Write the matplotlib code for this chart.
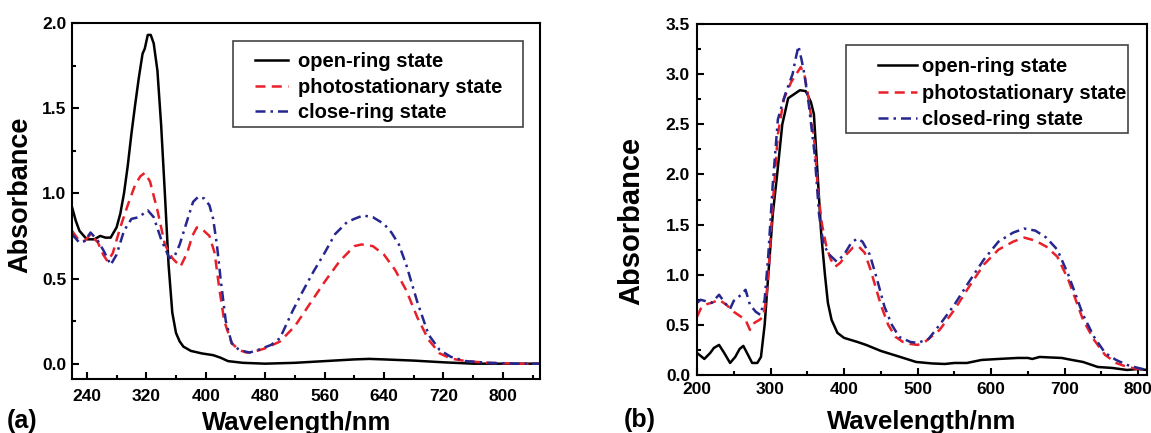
import numpy as np
import matplotlib
matplotlib.use("Agg")
import matplotlib.pyplot as plt
from matplotlib.patches import Rectangle
from matplotlib.ticker import MultipleLocator

plt.rcParams['font.family'] = ['Liberation Sans', 'DejaVu Sans']
plt.rcParams['font.weight'] = 'bold'

# ---- panel (a) data (wavelength nm, absorbance) ----
a_open_x = [220, 225, 230, 240, 250, 258, 265, 272, 280, 285, 290, 295, 300, 305, 310, 315, 318,
            322, 326, 330, 335, 340, 345, 350, 355, 360, 365, 370, 380, 395, 410, 420, 430, 450,
            480, 520, 560, 600, 620, 640, 680, 720, 760, 800, 850]
a_open_y = [0.92, 0.84, 0.78, 0.73, 0.73, 0.75, 0.74, 0.74, 0.80, 0.88, 1.00, 1.16, 1.35, 1.52,
            1.68, 1.82, 1.85, 1.93, 1.93, 1.88, 1.72, 1.40, 1.00, 0.58, 0.30, 0.18, 0.13, 0.10,
            0.075, 0.06, 0.05, 0.035, 0.015, 0.005, 0.0, 0.005, 0.015, 0.025, 0.028, 0.025, 0.018,
            0.008, 0.0, 0.0, 0.0]

a_photo_x = [220, 230, 237, 245, 255, 262, 268, 275, 285, 295, 305, 312, 318, 325, 335, 345, 355,
             366, 375, 382, 388, 395, 405, 412, 418, 425, 435, 445, 455, 465, 480, 500, 520, 540,
             560, 580, 600, 610, 625, 640, 655, 670, 685, 700, 715, 730, 750, 780, 820, 850]
a_photo_y = [0.78, 0.72, 0.72, 0.76, 0.71, 0.64, 0.60, 0.65, 0.80, 0.93, 1.05, 1.10, 1.12, 1.07,
             0.90, 0.70, 0.62, 0.57, 0.65, 0.75, 0.80, 0.79, 0.75, 0.65, 0.45, 0.25, 0.12, 0.08,
             0.065, 0.07, 0.09, 0.13, 0.22, 0.35, 0.48, 0.60, 0.69, 0.70, 0.69, 0.64, 0.55, 0.43,
             0.27, 0.14, 0.06, 0.03, 0.015, 0.005, 0.0, 0.0]

a_close_x = [220, 230, 237, 245, 255, 263, 272, 280, 290, 300, 310, 322, 330, 340, 351, 358, 365,
             375, 383, 390, 398, 405, 410, 415, 420, 427, 435, 445, 459, 470, 488, 500, 517, 530,
             545, 560, 574, 590, 600, 612, 625, 640, 650, 660, 670, 685, 700, 715, 730, 750, 780,
             820, 850]
a_close_y = [0.76, 0.71, 0.72, 0.77, 0.72, 0.66, 0.58, 0.64, 0.78, 0.85, 0.86, 0.90, 0.86, 0.73,
             0.62, 0.63, 0.70, 0.84, 0.95, 0.98, 0.97, 0.93, 0.85, 0.70, 0.50, 0.25, 0.12, 0.08,
             0.065, 0.08, 0.11, 0.15, 0.31, 0.42, 0.54, 0.65, 0.76, 0.83, 0.85, 0.87, 0.86, 0.82,
             0.77, 0.70, 0.58, 0.36, 0.17, 0.08, 0.04, 0.015, 0.005, 0.0, 0.0]

# ---- panel (b) data ----
b_open_x = [200, 205, 210, 218, 223, 230, 237, 245, 252, 258, 263, 268, 275, 282, 287, 292, 297,
            303, 309, 316, 324, 332, 340, 348, 355, 359, 364, 369, 374, 378, 383, 391, 400, 418,
            430, 450, 472, 498, 520, 537, 550, 567, 587, 610, 636, 650, 656, 666, 680, 696, 710,
            725, 745, 765, 785, 800, 812]
b_open_y = [0.22, 0.19, 0.16, 0.22, 0.27, 0.30, 0.22, 0.12, 0.18, 0.26, 0.29, 0.22, 0.12, 0.12,
            0.18, 0.50, 1.00, 1.60, 2.00, 2.50, 2.76, 2.80, 2.84, 2.83, 2.72, 2.60, 2.00, 1.40,
            1.00, 0.72, 0.55, 0.42, 0.37, 0.33, 0.30, 0.24, 0.19, 0.13, 0.115, 0.11, 0.12, 0.12,
            0.15, 0.16, 0.17, 0.17, 0.16, 0.18, 0.175, 0.17, 0.15, 0.13, 0.08, 0.07, 0.05, 0.06,
            0.05]

b_photo_x = [200, 205, 210, 220, 230, 240, 250, 260, 266, 272, 278, 285, 290, 294, 297, 303, 310,
             318, 328, 335, 341, 346, 352, 360, 365, 370, 376, 382, 388, 395, 403, 412, 420, 428,
             436, 442, 450, 460, 470, 480, 490, 500, 510, 530, 550, 570, 590, 610, 630, 645, 660,
             675, 690, 705, 715, 725, 740, 755, 770, 785, 800, 812]
b_photo_y = [0.58, 0.66, 0.70, 0.72, 0.75, 0.70, 0.63, 0.58, 0.55, 0.45, 0.52, 0.55, 0.58, 0.75,
             1.00, 1.70, 2.40, 2.75, 2.92, 3.00, 3.07, 3.00, 2.75, 2.30, 1.80, 1.50, 1.28, 1.15,
             1.08, 1.12, 1.20, 1.27, 1.28, 1.22, 1.05, 0.90, 0.70, 0.50, 0.38, 0.33, 0.31, 0.30,
             0.33, 0.45, 0.65, 0.88, 1.10, 1.25, 1.33, 1.37, 1.34, 1.28, 1.18, 0.95, 0.75, 0.55,
             0.35, 0.20, 0.12, 0.08, 0.06, 0.06]

b_close_x = [200, 205, 210, 220, 230, 240, 245, 250, 260, 266, 272, 280, 286, 292, 297, 303, 310,
             320, 330, 334, 338, 342, 346, 352, 360, 366, 372, 380, 390, 400, 410, 418, 425, 435,
             445, 455, 465, 475, 490, 500, 515, 530, 550, 570, 590, 610, 630, 645, 660, 675, 690,
             705, 715, 725, 740, 755, 770, 785, 800, 812]
b_close_y = [0.72, 0.75, 0.74, 0.72, 0.80, 0.70, 0.66, 0.74, 0.80, 0.85, 0.70, 0.63, 0.60, 0.75,
             1.20, 1.90, 2.55, 2.80, 3.00, 3.15, 3.28, 3.15, 3.00, 2.70, 2.20, 1.60, 1.30, 1.20,
             1.13, 1.20, 1.32, 1.36, 1.33, 1.20, 0.95, 0.68, 0.50, 0.38, 0.33, 0.32, 0.36, 0.50,
             0.70, 0.93, 1.15, 1.33, 1.42, 1.46, 1.44, 1.37, 1.25, 1.00, 0.80, 0.60, 0.38, 0.22,
             0.15, 0.10, 0.07, 0.05]

labels_a = ["open-ring state", "photostationary state", "close-ring state"]
labels_b = ["open-ring state", "photostationary state", "closed-ring state"]

RED = '#e8202a'
BLUE = '#26268f'
W, H = 1151, 433

fig = plt.figure(figsize=(W / 100, H / 100), dpi=100)


def px_axes(left, top, right, bottom):
    return fig.add_axes([left / W, 1 - bottom / H, (right - left) / W, (bottom - top) / H])


def style_axes(ax, xpad, ypad):
    for s in ax.spines.values():
        s.set_linewidth(1.5)
    ax.tick_params(which='both', direction='in', top=False, right=False, width=1.5,
                   labelsize=12.5)
    ax.tick_params(which='major', length=5)
    ax.tick_params(which='minor', length=3)
    ax.tick_params(axis='x', pad=xpad)
    ax.tick_params(axis='y', pad=ypad)
    for t in ax.get_xticklabels() + ax.get_yticklabels():
        t.set_fontweight('bold')


def draw_curves(ax, xo, yo, xp, yp, xc, yc, labels):
    ax.plot(xo, yo, color='black', lw=1.8, label=labels[0])
    ax.plot(xp, yp, color=RED, lw=1.8, dashes=(4, 2.5), label=labels[1])
    ax.plot(xc, yc, color=BLUE, lw=1.8, dashes=(4, 2, 1, 2), label=labels[2])


def add_legend(ax, hx, hy, box, hlen, hpad, lspace):
    # legend entries without frame, box drawn separately (pixel coords)
    ax.legend(loc='upper left', bbox_to_anchor=(hx / W, 1 - hy / H),
              bbox_transform=fig.transFigure, borderaxespad=0, borderpad=0,
              frameon=False, fontsize=14.5, handlelength=hlen,
              handletextpad=hpad, labelspacing=lspace)
    x0, y0, x1, y1 = box
    fig.patches.append(Rectangle((x0 / W, 1 - y1 / H), (x1 - x0) / W, (y1 - y0) / H,
                                 transform=fig.transFigure, fill=False,
                                 edgecolor='#444444', linewidth=1.2))


# panel (a)
ax1 = px_axes(72, 23, 540, 379)
draw_curves(ax1, a_open_x, a_open_y, a_photo_x, a_photo_y, a_close_x, a_close_y, labels_a)
ax1.set_xlim(220, 850)
ax1.set_ylim(-0.09, 2.0)
ax1.xaxis.set_minor_locator(MultipleLocator(40))
ax1.set_xticks(np.arange(240, 801, 80))
ax1.yaxis.set_major_locator(MultipleLocator(0.5))
ax1.yaxis.set_minor_locator(MultipleLocator(0.25))
style_axes(ax1, 7, 4)
ax1.set_xlabel("Wavelength/nm", fontsize=18.5, fontweight='bold')
ax1.xaxis.set_label_coords(0.48, -0.09)
ax1.set_ylabel("Absorbance", fontsize=19.5, fontweight='bold')
ax1.yaxis.set_label_coords(-0.083, 0.517)
add_legend(ax1, 255, 52, (233, 41, 523, 127), 1.64, 0.5, 0.33)
fig.text(22 / W, 1 - 421 / H, "(a)", fontsize=18, fontweight='bold', ha='center', va='center')

# panel (b)
ax2 = px_axes(697, 24, 1147, 375)
draw_curves(ax2, b_open_x, b_open_y, b_photo_x, b_photo_y, b_close_x, b_close_y, labels_b)
ax2.set_xlim(200, 812)
ax2.set_ylim(0, 3.5)
ax2.xaxis.set_major_locator(MultipleLocator(100))
ax2.xaxis.set_minor_locator(MultipleLocator(50))
ax2.yaxis.set_major_locator(MultipleLocator(0.5))
ax2.yaxis.set_minor_locator(MultipleLocator(0.25))
style_axes(ax2, 5, 5)
ax2.set_xlabel("Wavelength/nm", fontsize=18.5, fontweight='bold')
ax2.xaxis.set_label_coords(0.5, -0.1)
ax2.set_ylabel("Absorbance", fontsize=21, fontweight='bold')
ax2.yaxis.set_label_coords(-0.115, 0.44)
add_legend(ax2, 878, 57, (846, 45, 1128, 133), 1.94, 0.25, 0.38)
fig.text(640 / W, 1 - 420 / H, "(b)", fontsize=18, fontweight='bold', ha='center', va='center')

fig.savefig("out.png", dpi=100)
